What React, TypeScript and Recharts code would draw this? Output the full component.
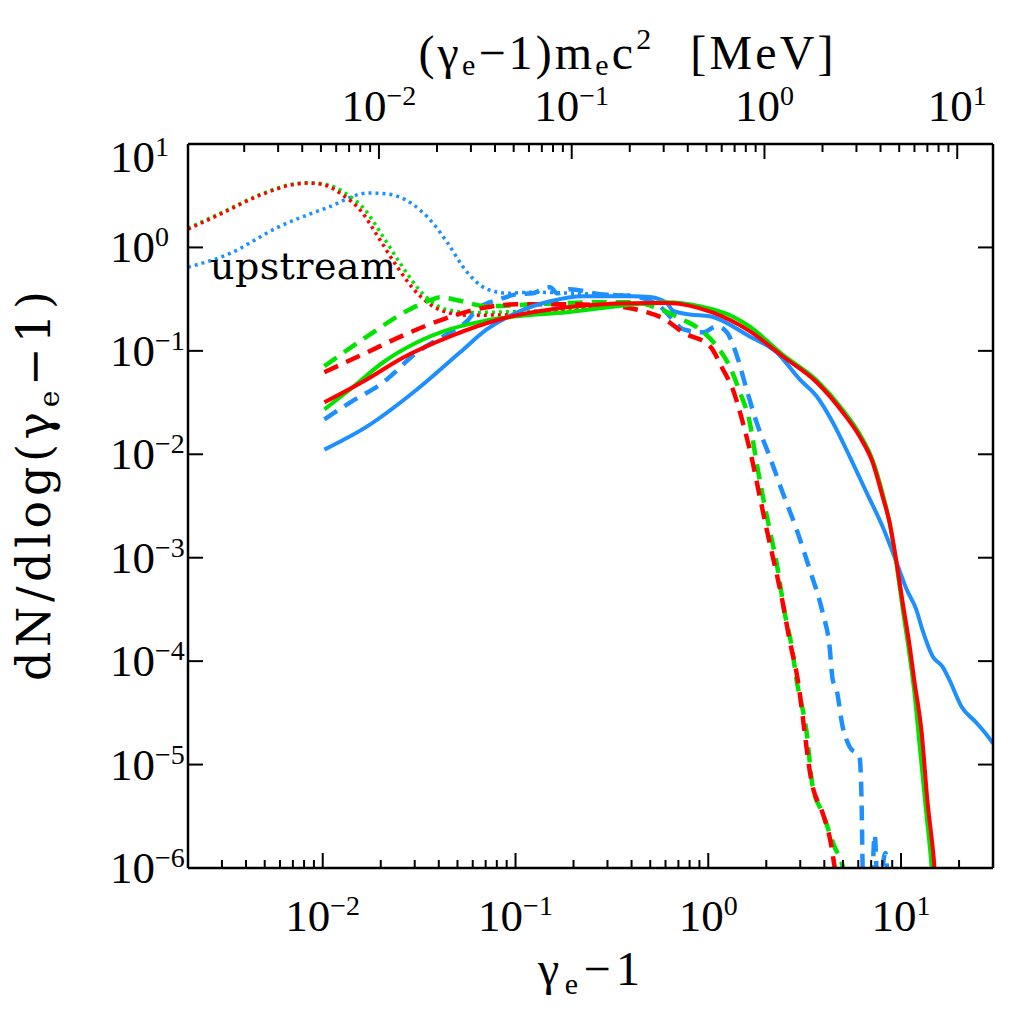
import React from 'react';
import { LineChart, Line, XAxis, YAxis } from 'recharts';

// ---------- axes ----------
const X_DOMAIN: [number, number] = [0.002, 30];
const ELECTRON_REST_MEV = 0.511;
const TOP_DOMAIN: [number, number] = [X_DOMAIN[0] * ELECTRON_REST_MEV, X_DOMAIN[1] * ELECTRON_REST_MEV];
const Y_DOMAIN: [number, number] = [1e-6, 10];

const xMajorExponents = [-2, -1, 0, 1];
const xMinorTicks = [
  0.002, 0.003, 0.004, 0.005, 0.006, 0.007, 0.008, 0.009,
  0.02, 0.03, 0.04, 0.05, 0.06, 0.07, 0.08, 0.09,
  0.2, 0.3, 0.4, 0.5, 0.6, 0.7, 0.8, 0.9,
  2, 3, 4, 5, 6, 7, 8, 9, 20,
];
const topMajorExponents = [-2, -1, 0, 1];
const topMinorTicks = [
  0.002, 0.003, 0.004, 0.005, 0.006, 0.007, 0.008, 0.009,
  0.02, 0.03, 0.04, 0.05, 0.06, 0.07, 0.08, 0.09,
  0.2, 0.3, 0.4, 0.5, 0.6, 0.7, 0.8, 0.9,
  2, 3, 4, 5, 6, 7, 8, 9,
];
const yMajorExponents = [-6, -5, -4, -3, -2, -1, 0, 1];

// ---------- series: [gamma_e - 1, dN/dlog(gamma_e - 1)] ----------
const redDotted: [number, number][] = [
  [0.002, 1.5], [0.00294, 2.1], [0.00474, 3.2], [0.00679, 4.0], [0.0084, 4.19], [0.0103, 4.0],
  [0.0125, 3.28], [0.0158, 2.25], [0.0194, 1.26], [0.0238, 0.69], [0.0313, 0.353], [0.0421, 0.242],
  [0.0561, 0.221], [0.102, 0.224], [0.185, 0.24], [0.3, 0.27],
];
const greenDotted: [number, number][] = [
  [0.002, 1.53], [0.00294, 2.14], [0.00474, 3.25], [0.00679, 4.05], [0.0084, 4.22], [0.0105, 4.05],
  [0.0131, 3.35], [0.0166, 2.3], [0.0204, 1.3], [0.025, 0.72], [0.0329, 0.36], [0.0442, 0.25],
  [0.059, 0.235], [0.102, 0.24], [0.185, 0.25], [0.3, 0.27],
];
const blueDotted: [number, number][] = [
  [0.002, 0.644], [0.00324, 0.861], [0.00587, 1.57], [0.0107, 2.45], [0.0172, 3.36], [0.0218, 3.28],
  [0.0324, 2.25], [0.0375, 1.7], [0.0442, 1.12], [0.0561, 0.576], [0.0712, 0.395], [0.0903, 0.361],
  [0.123, 0.369], [0.2, 0.36], [0.406, 0.345],
];
const greenDashed: [number, number][] = [
  [0.0102, 0.071], [0.017, 0.138], [0.0284, 0.253], [0.0374, 0.316], [0.0407, 0.33], [0.0498, 0.309],
  [0.0712, 0.27], [0.123, 0.282], [0.274, 0.295], [0.406, 0.295], [0.561, 0.253], [0.738, 0.2],
  [0.904, 0.162], [1.107, 0.111], [1.29, 0.071], [1.46, 0.0397], [1.64, 0.0204], [1.78, 0.00835],
  [1.92, 0.00391], [2.08, 0.00188], [2.26, 0.000899], [2.49, 0.000295], [2.71, 0.000138],
  [2.87, 0.0000662], [3.24, 0.0000203], [3.48, 0.0000061], [3.92, 0.0000034], [4.52, 0.0000016],
  [4.98, 0.00000103], [5.3, 0.0000005],
];
const redDashed: [number, number][] = [
  [0.0102, 0.0621], [0.017, 0.0969], [0.0284, 0.151], [0.0421, 0.202], [0.0632, 0.253], [0.102, 0.282],
  [0.185, 0.282], [0.336, 0.27], [0.458, 0.242], [0.6, 0.2], [0.738, 0.151], [1.02, 0.111],
  [1.19, 0.0664], [1.34, 0.0425], [1.51, 0.0204], [1.7, 0.00835], [1.85, 0.00391], [2.01, 0.00188],
  [2.16, 0.00103], [2.4, 0.000421], [2.64, 0.000161], [2.87, 0.0000774], [3.48, 0.0000061],
  [3.92, 0.0000034], [4.36, 0.0000016], [4.52, 0.00000103], [4.8, 0.0000005],
];
const blueDashed: [number, number][] = [
  [0.0102, 0.0218], [0.0139, 0.0318], [0.0206, 0.0497], [0.0309, 0.0969], [0.0458, 0.151], [0.0561, 0.194],
  [0.0632, 0.253], [0.0832, 0.316], [0.102, 0.353], [0.123, 0.36], [0.14, 0.4], [0.151, 0.413],
  [0.165, 0.36], [0.191, 0.395], [0.274, 0.353], [0.406, 0.338], [0.56, 0.27], [0.655, 0.2],
  [0.738, 0.162], [0.937, 0.151], [1.107, 0.173], [1.25, 0.151], [1.41, 0.0887], [1.58, 0.0425],
  [1.78, 0.0204], [2.08, 0.00955], [2.43, 0.00428], [2.87, 0.00188], [3.36, 0.000769], [3.92, 0.000295],
  [4.26, 0.000138], [4.42, 0.0000662], [4.63, 0.000053], [4.98, 0.0000232], [5.41, 0.0000149],
  [6.09, 0.0000119], [6.24, 0.00000456], [6.32, 0.00000103], [6.4, 0.0000005], [7.0, 0.0000005],
  [7.3, 0.0000021], [7.6, 0.0000005], [8.3, 0.0000014], [8.6, 0.0000005],
];
const greenSolid: [number, number][] = [
  [0.0102, 0.0272], [0.0139, 0.0425], [0.0206, 0.0776], [0.0309, 0.121], [0.0458, 0.162], [0.0679, 0.194],
  [0.102, 0.216], [0.185, 0.236], [0.336, 0.27], [0.61, 0.295], [0.904, 0.27], [1.34, 0.215], [1.64, 0.172],
  [2.43, 0.092], [3.65, 0.052], [4.98, 0.027], [6.09, 0.0158], [7.12, 0.0088], [8.02, 0.0042],
  [8.72, 0.0022], [9.48, 0.00085], [10.2, 0.00032], [11.1, 0.00011], [11.7, 0.000052], [12.5, 0.000015],
  [13.5, 0.0000035], [14.4, 0.00000103], [14.8, 0.0000005],
];
const redSolid: [number, number][] = [
  [0.0102, 0.0318], [0.017, 0.0531], [0.0252, 0.083], [0.0458, 0.138], [0.0832, 0.202], [0.185, 0.264],
  [0.406, 0.289], [0.61, 0.29], [1.05, 0.235], [1.64, 0.155], [2.43, 0.0887], [3.65, 0.0497],
  [4.98, 0.0255], [6.09, 0.0149], [7.12, 0.00835], [8.02, 0.00391], [8.72, 0.00219], [9.48, 0.000899],
  [10.2, 0.000368], [11.1, 0.000138], [11.7, 0.0000662], [12.8, 0.0000203], [13.7, 0.0000045],
  [14.9, 0.00000103], [15.3, 0.0000005],
];
const blueSolid: [number, number][] = [
  [0.0102, 0.0111], [0.017, 0.0186], [0.0309, 0.0425], [0.0516, 0.0969], [0.0712, 0.162], [0.102, 0.236],
  [0.151, 0.302], [0.224, 0.338], [0.406, 0.338], [0.498, 0.331], [0.61, 0.29], [0.655, 0.245],
  [0.8, 0.225], [1.02, 0.216], [1.64, 0.138], [2.26, 0.0969], [2.98, 0.0531], [3.65, 0.0364],
  [4.42, 0.0204], [5.41, 0.00955], [6.62, 0.00428], [8.02, 0.002], [9.48, 0.000899], [10.7, 0.000492],
  [12.0, 0.000315], [12.9, 0.000202], [14.6, 0.000111], [16.4, 0.0000885], [17.8, 0.0000662],
  [20.6, 0.0000363], [24.6, 0.0000254], [29.8, 0.0000163], [30, 0.000016],
];

const RED = '#ff0000';
const GREEN = '#00e400';
const BLUE = '#1e8fff';

const toRows = (pts: [number, number][]) => pts.map(([x, y]) => ({ x, y }));

const sortTicks = (minor: number[], majorExp: number[]) =>
  [...minor, ...majorExp.map((e) => Math.pow(10, e))].sort((a, b) => a - b);

const isMajor = (v: number) => {
  const l = Math.log10(v);
  return Math.abs(l - Math.round(l)) < 1e-9;
};
const expText = (v: number) => {
  const e = Math.round(Math.log10(v));
  return e < 0 ? '\u2212' + Math.abs(e) : String(e);
};

const TICK_FONT = '"Liberation Serif", "Times New Roman", serif';
const MAJOR = 15;
const MINOR = 8;
const SUP_DY = -16;
const SUP_SIZE = 28;

const BottomTick = (props: any) => {
  const { x, y, payload } = props;
  const v = payload.value;
  const major = isMajor(v);
  return (
    <g>
      <line x1={x} y1={y} x2={x} y2={y - (major ? MAJOR : MINOR)} stroke="#000" strokeWidth={2} />
      {major && (
        <text x={x} y={y + 63} textAnchor="middle" fontFamily={TICK_FONT} fontSize={45} fill="#000">
          10<tspan dy={SUP_DY} fontSize={SUP_SIZE}>{expText(v)}</tspan>
        </text>
      )}
    </g>
  );
};

const TopTick = (props: any) => {
  const { x, y, payload } = props;
  const v = payload.value;
  const major = isMajor(v);
  return (
    <g>
      <line x1={x} y1={y} x2={x} y2={y + (major ? MAJOR : MINOR)} stroke="#000" strokeWidth={2} />
      {major && (
        <text x={x} y={y - 23} textAnchor="middle" fontFamily={TICK_FONT} fontSize={45} fill="#000">
          10<tspan dy={SUP_DY} fontSize={SUP_SIZE}>{expText(v)}</tspan>
        </text>
      )}
    </g>
  );
};

const LeftTick = (props: any) => {
  const { x, y, payload } = props;
  const v = payload.value;
  const e = Math.round(Math.log10(v));
  const base = e === 1 ? y + 28 : y + 15;
  return (
    <g>
      <line x1={x} y1={y} x2={x + MAJOR} y2={y} stroke="#000" strokeWidth={2} />
      <text x={x - 78} y={base} textAnchor="start" fontFamily={TICK_FONT} fontSize={45} fill="#000">
        10<tspan dy={SUP_DY} fontSize={SUP_SIZE}>{expText(v)}</tspan>
      </text>
    </g>
  );
};

const RightTick = (props: any) => {
  const { x, y } = props;
  return <line x1={x} y1={y} x2={x - MAJOR} y2={y} stroke="#000" strokeWidth={2} />;
};

const W = 1016;
const H = 1005;

type S = { key: string; data: [number, number][]; color: string; dash?: string; width: number };
const series: S[] = [
  { key: 'bDot', data: blueDotted, color: BLUE, dash: '3 4', width: 3.5 },
  { key: 'gDot', data: greenDotted, color: GREEN, dash: '3 4', width: 3.5 },
  { key: 'rDot', data: redDotted, color: RED, dash: '3 4', width: 3.5 },
  { key: 'bDash', data: blueDashed, color: BLUE, dash: '15 9', width: 4.5 },
  { key: 'gDash', data: greenDashed, color: GREEN, dash: '15 9', width: 4.5 },
  { key: 'rDash', data: redDashed, color: RED, dash: '15 9', width: 4.5 },
  { key: 'bSol', data: blueSolid, color: BLUE, width: 4 },
  { key: 'gSol', data: greenSolid, color: GREEN, width: 4 },
  { key: 'rSol', data: redSolid, color: RED, width: 4 },
];

// invisible carrier so the top (MeV) axis is laid out
const topAxisCarrier = TOP_DOMAIN.map((x) => ({ x, y: 1 }));

export default function App() {
  const bottomTicks = sortTicks(xMinorTicks, xMajorExponents);
  const topTicks = sortTicks(topMinorTicks, topMajorExponents);
  const yTicks = yMajorExponents.map((e) => Math.pow(10, e));
  const axisLine = { stroke: '#000', strokeWidth: 2.5 };

  return (
    <div style={{ position: 'relative', width: W, height: H, background: '#fff' }}>
      <LineChart width={W} height={H} margin={{ top: 76, right: 30, bottom: 85, left: 120 }}>
        <XAxis
          xAxisId="bottom"
          dataKey="x"
          type="number"
          scale="log"
          domain={X_DOMAIN}
          allowDataOverflow
          ticks={bottomTicks}
          interval={0}
          tickSize={0}
          tickMargin={0}
          tickLine={false}
          axisLine={axisLine}
          tick={<BottomTick />}
          height={60}
          orientation="bottom"
        />
        <XAxis
          xAxisId="top"
          dataKey="x"
          type="number"
          scale="log"
          domain={TOP_DOMAIN}
          allowDataOverflow
          ticks={topTicks}
          interval={0}
          tickSize={0}
          tickMargin={0}
          tickLine={false}
          axisLine={axisLine}
          tick={<TopTick />}
          height={60}
          orientation="top"
        />
        <YAxis
          yAxisId="left"
          type="number"
          scale="log"
          domain={Y_DOMAIN}
          allowDataOverflow
          ticks={yTicks}
          interval={0}
          tickSize={0}
          tickMargin={0}
          tickLine={false}
          axisLine={axisLine}
          tick={<LeftTick />}
          width={60}
          orientation="left"
        />
        <YAxis
          yAxisId="right"
          type="number"
          scale="log"
          domain={Y_DOMAIN}
          allowDataOverflow
          ticks={yTicks}
          interval={0}
          tickSize={0}
          tickMargin={0}
          tickLine={false}
          axisLine={axisLine}
          tick={<RightTick />}
          width={1}
          orientation="right"
        />
        <Line
          xAxisId="top"
          yAxisId="right"
          data={topAxisCarrier}
          dataKey="y"
          stroke="none"
          dot={false}
          activeDot={false}
          isAnimationActive={false}
        />
        {series.map((s) => (
          <Line
            key={s.key}
            xAxisId="bottom"
            yAxisId="left"
            data={toRows(s.data)}
            dataKey="y"
            type="monotone"
            stroke={s.color}
            strokeWidth={s.width}
            strokeDasharray={s.dash}
            dot={false}
            activeDot={false}
            isAnimationActive={false}
          />
        ))}
      </LineChart>
      <svg
        width={W}
        height={H}
        style={{ position: 'absolute', left: 0, top: 0, pointerEvents: 'none' }}
      >
        <text
          x={618}
          y={61}
          textAnchor="middle"
          fontFamily={TICK_FONT}
          fontSize={48}
          fill="#000"
          textLength={415}
          lengthAdjust="spacing"
        >
          (<tspan>γ</tspan>
          <tspan dy={6} fontSize={30}>e</tspan>
          <tspan dy={-6}>−1)m</tspan>
          <tspan dy={6} fontSize={30}>e</tspan>
          <tspan dy={-6}>c</tspan>
          <tspan dy={-20} fontSize={30}>2</tspan>
          <tspan dy={20} dx={36}>[MeV]</tspan>
        </text>
        <text
          x={581}
          y={977}
          textAnchor="middle"
          fontFamily={TICK_FONT}
          fontSize={48}
          fill="#000"
          textLength={102}
          lengthAdjust="spacing"
        >
          <tspan>γ</tspan>
          <tspan dy={9} fontSize={30}>e</tspan>
          <tspan dy={-9}>−1</tspan>
        </text>
        <text
          x={0}
          y={0}
          transform="translate(42,478) rotate(-90)"
          textAnchor="middle"
          fontFamily='"DejaVu Serif", serif'
          fontSize={46}
          fill="#000"
          textLength={390}
          lengthAdjust="spacing"
        >
          dN/dlog(<tspan>γ</tspan>
          <tspan dy={9} fontSize={28}>e</tspan>
          <tspan dy={-9}>−1)</tspan>
        </text>
        <text
          x={202}
          y={271}
          fontFamily='"DejaVu Serif", serif'
          fontSize={38}
          fill="#000"
          textLength={186}
          lengthAdjust="spacing"
        >
          upstream
        </text>
      </svg>
    </div>
  );
}
